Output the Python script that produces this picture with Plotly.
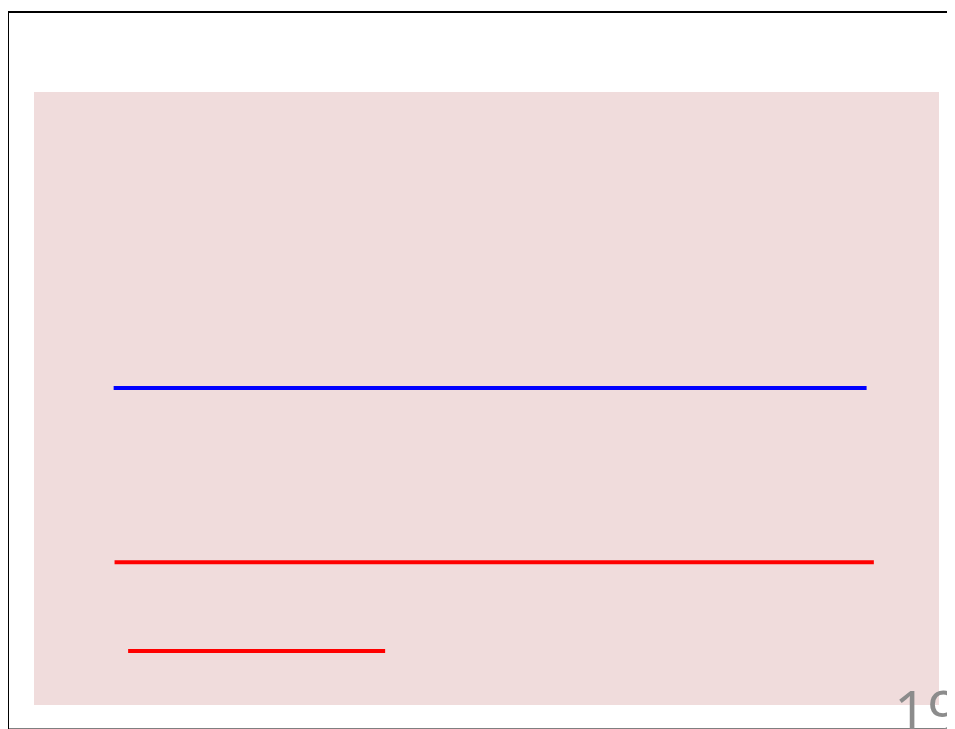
import plotly.graph_objects as go

# Data (axis units 0-100)
series_names = ["blue line", "red line 1", "red line 2"]
series_colors = ["#0000ff", "#ff0000", "#ff0000"]
x_start = [8.8, 8.9, 10.4]
x_end = [92.0, 92.8, 38.8]
y_level = [51.7, 23.3, 8.8]
page_label = "19"

fig = go.Figure()
for name, col, x0, x1, y in zip(series_names, series_colors, x_start, x_end, y_level):
    fig.add_trace(go.Scatter(x=[x0, x1], y=[y, y], mode="lines", name=name,
                             line=dict(color=col, width=4), showlegend=False,
                             hoverinfo="skip"))

W, H = 955, 729
L, R, T, B = 26, 24, 84, 32
pw, ph = W - L - R, H - T - B

def px_x(p):
    return (p - L) / pw

def px_y(p):
    return (H - B - p) / ph

fig.update_layout(
    width=W, height=H,
    margin=dict(l=L, r=R, t=T, b=B, pad=0),
    paper_bgcolor="white",
    plot_bgcolor="#f0dcdc",
    xaxis=dict(range=[0, 100], visible=False, fixedrange=True),
    yaxis=dict(range=[0, 100], visible=False, fixedrange=True),
    shapes=[dict(type="rect", xref="paper", yref="paper",
                 x0=px_x(0), x1=px_x(1000), y0=px_y(721.5), y1=px_y(4),
                 line=dict(color="black", width=2), fillcolor="rgba(0,0,0,0)",
                 layer="above")],
    annotations=[dict(text=page_label, xref="paper", yref="paper",
                      x=px_x(884), y=px_y(661), xanchor="left", yanchor="top",
                      showarrow=False,
                      font=dict(family="Open Sans", size=58, color="#8c8c8c"))],
)

fig.write_html("out.html")
